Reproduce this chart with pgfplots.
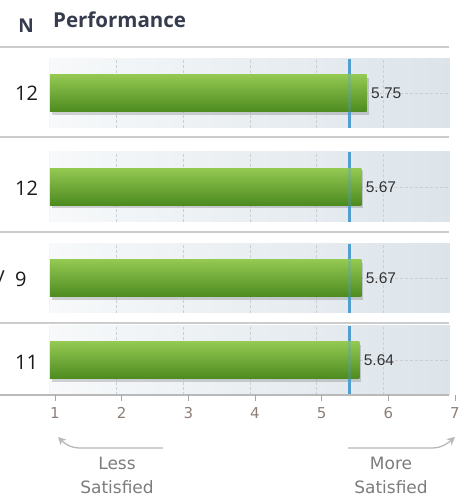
\documentclass[border=0pt]{standalone}
\usepackage{pgfplots}
\pgfplotsset{compat=1.18}
\usetikzlibrary{arrows.meta}
\usepackage{fontspec}
\setmainfont{Open Sans}
\newfontfamily\dejavu{DejaVu Sans}
\newfontfamily\arial{Liberation Sans}

\definecolor{titlec}{HTML}{363B4E}
\definecolor{sepc}{HTML}{CCCCCC}
\definecolor{gridc}{HTML}{C9CFD4}
\definecolor{bgl}{HTML}{F7F9FA}
\definecolor{bgr}{HTML}{DCE4EA}
\definecolor{gtop}{HTML}{93C851}
\definecolor{gmid}{HTML}{70AC36}
\definecolor{gbot}{HTML}{4C8A1F}
\definecolor{refc}{HTML}{519FCF}
\definecolor{tickc}{HTML}{8C8078}
\definecolor{arrc}{HTML}{B8B8B8}
\definecolor{lblc}{HTML}{7C7C7C}

\pgfplotsset{
  panel/.style={
    scale only axis, width=400pt, height=69pt,
    xmin=1, xmax=7, ymin=0, ymax=1,
    xtick={2,3,4,5,6}, xticklabels={},
    ytick={0.5}, yticklabels={},
    major tick length=0pt,
    xmajorgrids, ymajorgrids,
    grid style={densely dashed, gridc, line width=0.7pt},
    axis line style={draw=none},
    axis background/.style={left color=bgl, right color=bgr},
  },
  shadowbar/.style={xbar, bar width=37pt, draw=none, fill=black, opacity=0.16, xshift=2pt, yshift=-3pt},
  greenbar/.style={xbar, bar width=37pt, draw=none, top color=gtop, middle color=gmid, bottom color=gbot,
    nodes near coords,
    nodes near coords style={anchor=west, xshift=1pt, text=black!80,
      font=\arial\fontsize{15.5}{16}\selectfont,
      /pgf/number format/assume math mode=true,
      /pgf/number format/fixed, /pgf/number format/fixed zerofill,
      /pgf/number format/precision=2}},
  refline/.style={refc, line width=3pt},
}

\begin{document}
\begin{tikzpicture}[x=1pt, y=1pt]
\useasboundingbox (0,0) rectangle (470,498);

% header
\node[anchor=base, text=titlec, font=\bfseries\fontsize{19}{22}\selectfont] at (26,465) {N};
\node[anchor=base west, inner sep=0pt, text=titlec, font=\bfseries\fontsize{20.5}{24}\selectfont] at (53,470) {Performance};

% separators
\foreach \yy in {451,360.5,266,175} {
  \draw[sepc, line width=2pt] (0,\yy) -- (449,\yy);
}

% panel 1
\begin{axis}[panel, at={(50pt,370pt)}]
\addplot[shadowbar] coordinates {(5.75,0.5)};
\addplot[refline] coordinates {(5.5,0) (5.5,1)};
\addplot[greenbar] coordinates {(5.75,0.5)};
\addplot[refline, opacity=0.3] coordinates {(5.5,0) (5.5,1)};
\draw[gray!60, line width=1pt] (rel axis cs:0,0) -- (rel axis cs:0,1);
\end{axis}

% panel 2
\begin{axis}[panel, at={(50pt,276pt)}, height=70pt]
\addplot[shadowbar] coordinates {(5.67,0.5)};
\addplot[refline] coordinates {(5.5,0) (5.5,1)};
\addplot[greenbar] coordinates {(5.67,0.5)};
\addplot[refline, opacity=0.3] coordinates {(5.5,0) (5.5,1)};
\draw[gray!60, line width=1pt] (rel axis cs:0,0) -- (rel axis cs:0,1);
\end{axis}

% panel 3
\begin{axis}[panel, at={(50pt,185pt)}]
\addplot[shadowbar] coordinates {(5.67,0.5)};
\addplot[refline] coordinates {(5.5,0) (5.5,1)};
\addplot[greenbar] coordinates {(5.67,0.5)};
\addplot[refline, opacity=0.3] coordinates {(5.5,0) (5.5,1)};
\draw[gray!60, line width=1pt] (rel axis cs:0,0) -- (rel axis cs:0,1);
\end{axis}

% panel 4
\begin{axis}[panel, at={(50pt,103pt)}]
\addplot[shadowbar] coordinates {(5.64,0.5)};
\addplot[refline] coordinates {(5.5,0) (5.5,1)};
\addplot[greenbar] coordinates {(5.64,0.5)};
\addplot[refline, opacity=0.3] coordinates {(5.5,0) (5.5,1)};
\draw[gray!60, line width=1pt] (rel axis cs:0,0) -- (rel axis cs:0,1);
\end{axis}

% bottom axis line
\draw[gray!55, line width=1.5pt] (0,103) -- (449,103);

% tick axis (labels sit a few px right of the grid)
\begin{axis}[
  at={(55pt,103pt)}, scale only axis, width=400pt, height=10pt,
  xmin=1, xmax=7, ymin=0, ymax=1,
  hide y axis, axis x line*=bottom, axis line style={draw=none},
  xtick={1,...,7}, tick align=outside, major tick length=6pt,
  xtick style={gray!70, line width=0.6pt},
  xticklabel style={text=tickc, font=\dejavu\fontsize{15}{16}\selectfont, yshift=-3pt},
  /pgf/number format/assume math mode=true,
]
\end{axis}

% N labels
\foreach \yy/\n in {405/12, 310/12, 219/9, 136/11} {
  \node[anchor=west, inner sep=0pt, font=\fontsize{20}{24}\selectfont, text=black!90] at (15,\yy) {\n};
}
\node[anchor=east, inner sep=0pt, font=\fontsize{20}{24}\selectfont, text=black!90] at (5,219) {y};

% arrows and captions
\draw[arrc, line width=1.3pt, -{Stealth[length=8pt, width=8pt]}]
  (163,50) -- (80,50) .. controls (70,50) and (64,55) .. (58,61);
\draw[arrc, line width=1.3pt, -{Stealth[length=8pt, width=8pt]}]
  (348,50) -- (432,50) .. controls (442,50) and (448,55) .. (455,61);
\node[text=lblc, font=\dejavu\fontsize{17}{18}\selectfont] at (117,35) {Less};
\node[text=lblc, font=\dejavu\fontsize{17}{18}\selectfont] at (117,11) {Satisfied};
\node[text=lblc, font=\dejavu\fontsize{17}{18}\selectfont] at (391,35) {More};
\node[text=lblc, font=\dejavu\fontsize{17}{18}\selectfont] at (391,11) {Satisfied};
\end{tikzpicture}
\end{document}
